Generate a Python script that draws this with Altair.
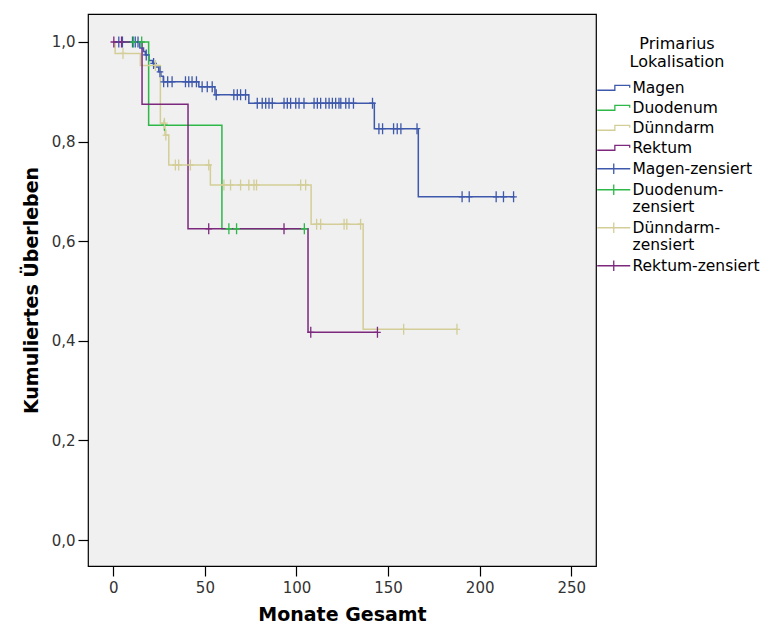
import altair as alt
import pandas as pd

# ---------------- data ----------------
series = ["Magen", "Duodenum", "Dünndarm", "Rektum"]
censor_names = ["Magen-zensiert", "Duodenum-zensiert", "Dünndarm-zensiert", "Rektum-zensiert"]
colors = ["#3E58AC", "#2EB848", "#D3CE97", "#7C287D"]

# step curves: times and survival after each step (last entry = end of follow-up)
magen_t = [0, 14.5, 16.5, 17.5, 19.5, 21.5, 23, 24.8, 26, 27.3, 46.7, 55.5, 74, 142.5, 166.5, 219]
magen_s = [1.0, 0.988, 0.981, 0.974, 0.963, 0.957, 0.950, 0.940, 0.931, 0.920, 0.910, 0.894, 0.877, 0.826, 0.689, 0.689]
magen_c = [3, 5, 10.5, 12, 13.5, 18, 22, 25.5, 27.5, 29.7, 32.1, 39.4, 41.2, 43, 45.4,
           48.5, 51.3, 54, 56.2, 65.8, 67.7, 69.5, 72.2,
           78.6, 81.3, 83.2, 85, 86.8, 93.2, 95, 96.8, 99.6, 101.4, 104.1, 109.6, 111.4,
           113.2, 116, 117.8, 119.6, 121.4, 123.2, 124.2, 126.9, 128.7, 131.1, 141.5,
           145, 147, 153, 155, 157, 165.8, 190.4, 194.3, 209, 213, 218.5]

duod_t = [0, 19.3, 59.3, 104.5]
duod_s = [1.0, 0.833, 0.625, 0.625]
duod_c = [11, 15.5, 27.9, 63.1, 67.3, 104.3]

duenn_t = [0, 1, 14.8, 25.7, 28.2, 30.3, 53, 108, 136.4, 188]
duenn_s = [1.0, 0.977, 0.953, 0.837, 0.813, 0.753, 0.713, 0.634, 0.423, 0.423]
duenn_c = [5.3, 23, 27.9, 28.7, 33.9, 35.7, 42.1, 52.1, 60.4, 64, 69.5, 74, 76.8, 78.2,
           102.3, 105, 111, 113.2, 126, 127.5, 135, 158.5, 187.6]

rekt_t = [0, 15.7, 40.8, 106.3, 144.2]
rekt_s = [1.0, 0.875, 0.625, 0.417, 0.417]
rekt_c = [0.3, 4.5, 52.1, 93.2, 107.8, 144.2]

x_ticks = [0, 50, 100, 150, 200, 250]
y_ticks = [0.0, 0.2, 0.4, 0.6, 0.8, 1.0]

# ---------------- tables ----------------
curves = [(magen_t, magen_s, magen_c), (duod_t, duod_s, duod_c),
          (duenn_t, duenn_s, duenn_c), (rekt_t, rekt_s, rekt_c)]

line_rows, cens_rows = [], []
for k, (name, cname, (ts, ss, cs)) in enumerate(zip(series, censor_names, curves)):
    for i, (t, s) in enumerate(zip(ts, ss)):
        line_rows.append({"series": name, "t": t, "s": s, "ord": k * 1000 + i})
    for c in cs:
        level = ss[0]
        for t, s in zip(ts, ss):
            if t <= c:
                level = s
        cens_rows.append({"series": cname, "t": c, "s": level})

lines_df = pd.DataFrame(line_rows)
cens_df = pd.DataFrame(cens_rows)

all_names = series + censor_names
color_scale = alt.Scale(domain=all_names, range=colors + colors)

# legend symbols (path units: 1 = 5.5 px at symbolSize 121)
step_path = "M-3,0.45H0.2V-0.45H2.9V0"
cross_path = "M-3,0H3M0,-0.95V0.95"
shape_scale = alt.Scale(domain=all_names, range=[step_path] * 4 + [cross_path] * 4)

x_enc = alt.X("t:Q", scale=alt.Scale(domain=[-13.8, 263.5], nice=False, zero=False),
              axis=alt.Axis(values=x_ticks, title="Monate Gesamt", labelPadding=4,
                            titlePadding=10, format="d"))
y_enc = alt.Y("s:Q", scale=alt.Scale(domain=[-0.0522, 1.0562], nice=False, zero=False),
              axis=alt.Axis(values=y_ticks, title="Kumuliertes Überleben",
                            labelExpr="replace(format(datum.value, '.1f'), '.', ',')",
                            labelPadding=3, titlePadding=10))

leg = alt.Legend(
    title=["Primarius", "Lokalisation"], orient="none", legendX=507, legendY=22,
    titleFont="DejaVu Sans", titleFontSize=16, titleFontWeight="normal", titleColor="black",
    titleAnchor="middle", titleAlign="center", titleLineHeight=18, titlePadding=10,
    labelFont="DejaVu Sans", labelFontSize=15.5, labelColor="black", labelOffset=11,
    labelLimit=300, symbolSize=121, symbolOffset=11, symbolStrokeWidth=1.3, symbolOpacity=1,
    rowPadding=3, padding=0,
    labelExpr="datum.label == 'Duodenum-zensiert' ? ['Duodenum-', 'zensiert'] : "
              "(datum.label == 'Dünndarm-zensiert' ? ['Dünndarm-', 'zensiert'] : datum.label)",
)

# invisible layer that only carries the legend (step / cross symbols)
legend_layer = alt.Chart(cens_df).mark_point(filled=False, opacity=0, strokeWidth=1.3).encode(
    x=x_enc, y=y_enc,
    color=alt.Color("series:N", scale=color_scale, legend=leg),
    shape=alt.Shape("series:N", scale=shape_scale, legend=leg),
)

lines = alt.Chart(lines_df).mark_line(interpolate="step-after", strokeWidth=1.5).encode(
    x="t:Q", y="s:Q",
    color=alt.Color("series:N", scale=color_scale, legend=None),
    order="ord:Q",
    detail="series:N",
)

censor = alt.Chart(cens_df).mark_point(
    shape="M-0.6,0H0.6M0,-1V1", size=121, filled=False, strokeWidth=1.3, opacity=1
).encode(
    x="t:Q", y="s:Q",
    color=alt.Color("series:N", scale=color_scale, legend=None),
)

chart = alt.layer(legend_layer, lines, censor).resolve_legend(
    color="independent", shape="independent"
).properties(
    width=508, height=552,
    autosize=alt.AutoSizeParams(type="none"),
    padding={"left": 80, "top": 6, "right": 170, "bottom": 59},
).configure_view(
    fill="#f0f0f0", stroke="black", strokeWidth=1.2
).configure_axis(
    domain=False, grid=False, tickColor="black", tickWidth=1.2, tickSize=10,
    labelFont="DejaVu Sans", labelFontSize=15, labelColor="#333333",
    titleFont="DejaVu Sans", titleFontSize=19, titleFontWeight="bold", titleColor="black",
)

chart.save("out.html", embed_options={"renderer": "svg", "actions": False})
